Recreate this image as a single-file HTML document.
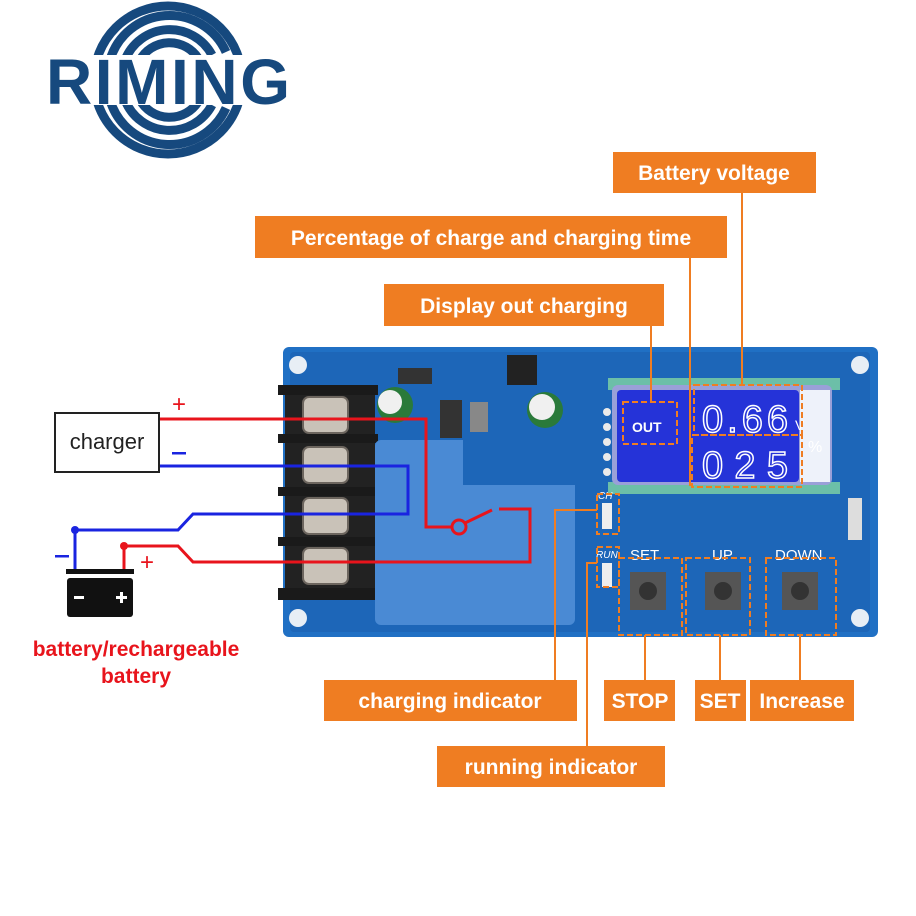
<!DOCTYPE html>
<html><head><meta charset="utf-8"><style>
body{margin:0;background:#fff;}
svg{display:block;}
.lb{font-family:"Liberation Sans",sans-serif;font-weight:bold;fill:#fff;font-size:21px;}
</style></head><body>
<svg width="916" height="916" viewBox="0 0 916 916" xmlns="http://www.w3.org/2000/svg">
<!-- logo -->
<g fill="none" stroke="#16497e" stroke-width="9">
<circle cx="168" cy="80" r="74"/>
<path d="M110 60 A62 62 0 0 1 226 52"/>
<path d="M125 60 A48 48 0 0 1 212 55"/>
<path d="M140 60 A34 34 0 0 1 198 58"/>
<path d="M110 100 A62 62 0 0 0 226 108"/>
<path d="M125 100 A48 48 0 0 0 212 105"/>
<path d="M140 100 A34 34 0 0 0 198 102"/>
</g>
<rect x="42" y="55" width="252" height="50" fill="#fff"/>
<text x="168" y="104" text-anchor="middle" font-family="Liberation Sans,sans-serif" font-weight="bold" font-size="64" fill="#16497e" textLength="244">RIMING</text>

<!-- board -->
<rect x="283" y="347" width="595" height="290" rx="6" fill="#2070c4"/>
<rect x="290" y="352" width="580" height="280" rx="4" fill="#1d66b8"/>
<circle cx="298" cy="365" r="9" fill="#e8eef5"/><circle cx="860" cy="365" r="9" fill="#e8eef5"/>
<circle cx="298" cy="618" r="9" fill="#e8eef5"/><circle cx="860" cy="618" r="9" fill="#e8eef5"/>
<!-- terminal block -->
<rect x="285" y="385" width="90" height="215" fill="#222"/>
<g fill="#1a1a1a"><rect x="278" y="385" width="100" height="10"/><rect x="278" y="434" width="100" height="9"/><rect x="278" y="487" width="100" height="9"/><rect x="278" y="537" width="100" height="9"/><rect x="278" y="588" width="100" height="12"/></g>
<g fill="#c9c2b8" stroke="#6c655e" stroke-width="2">
<rect x="303" y="397" width="45" height="36" rx="6"/><rect x="303" y="447" width="45" height="36" rx="6"/>
<rect x="303" y="498" width="45" height="36" rx="6"/><rect x="303" y="548" width="45" height="36" rx="6"/></g>
<!-- caps -->
<circle cx="395" cy="405" r="18" fill="#2a7a3a"/><circle cx="390" cy="402" r="12" fill="#f0f0f0"/>
<circle cx="545" cy="410" r="18" fill="#2a7a3a"/><circle cx="542" cy="407" r="13" fill="#f0f0f0"/>
<rect x="440" y="400" width="22" height="38" fill="#333"/>
<rect x="470" y="402" width="18" height="30" fill="#888"/>
<rect x="507" y="355" width="30" height="30" fill="#222"/>
<rect x="398" y="368" width="34" height="16" fill="#333"/>
<rect x="477" y="450" width="45" height="16" fill="#333"/>
<!-- relay -->
<rect x="375" y="440" width="200" height="185" rx="6" fill="#4a8ad4"/>
<rect x="463" y="440" width="112" height="45" fill="#1d66b8"/>
<!-- LCD -->
<rect x="608" y="378" width="232" height="12" fill="#6cbfa8"/>
<rect x="608" y="482" width="232" height="12" fill="#6cbfa8"/>
<rect x="612" y="385" width="220" height="100" rx="6" fill="#9aa0d8"/>
<rect x="617" y="390" width="182" height="92" rx="4" fill="#2533d8"/>
<rect x="800" y="390" width="30" height="92" fill="#eef2fa"/>
<text x="632" y="432" font-family="Liberation Sans,sans-serif" font-weight="bold" font-size="14" fill="#fff">OUT</text>
<text x="702" y="432" font-family="Liberation Sans,sans-serif" font-size="38" fill="none" stroke="#fff" stroke-width="1.5" textLength="86">0.66</text>
<text x="795" y="430" font-family="Liberation Sans,sans-serif" font-size="14" fill="#fff">V</text>
<text x="702" y="478" font-family="Liberation Sans,sans-serif" font-size="38" fill="none" stroke="#fff" stroke-width="1.5" textLength="86">025</text>
<text x="808" y="452" font-family="Liberation Sans,sans-serif" font-size="16" fill="#fff">%</text>
<g fill="#eaeaea"><circle cx="607" cy="412" r="4"/><circle cx="607" cy="427" r="4"/><circle cx="607" cy="442" r="4"/><circle cx="607" cy="457" r="4"/><circle cx="607" cy="472" r="4"/></g>
<rect x="848" y="498" width="14" height="42" fill="#ddd"/>
<!-- LEDs -->
<rect x="602" y="503" width="10" height="26" fill="#eee"/><rect x="602" y="563" width="10" height="24" fill="#eee"/>
<text x="598" y="499" font-family="Liberation Sans,sans-serif" font-style="italic" font-size="10" fill="#fff">CH</text>
<text x="596" y="558" font-family="Liberation Sans,sans-serif" font-style="italic" font-size="10" fill="#fff">RUN</text>
<!-- buttons -->
<g font-family="Liberation Sans,sans-serif" font-size="15" fill="#fff">
<text x="630" y="560">SET</text><text x="712" y="560">UP</text><text x="775" y="560">DOWN</text></g>
<g fill="#555"><rect x="630" y="572" width="36" height="38"/><rect x="705" y="572" width="36" height="38"/><rect x="782" y="572" width="36" height="38"/></g>
<g fill="#333"><circle cx="648" cy="591" r="9"/><circle cx="723" cy="591" r="9"/><circle cx="800" cy="591" r="9"/></g>
<!-- dashed orange -->
<g fill="none" stroke="#ef7d22" stroke-width="2" stroke-dasharray="6,3">
<rect x="623" y="402" width="54" height="42"/>
<rect x="694" y="385" width="108" height="50"/>
<rect x="692" y="435" width="110" height="52"/>
<rect x="597" y="494" width="22" height="40"/>
<rect x="597" y="547" width="22" height="40"/>
<rect x="619" y="558" width="63" height="77"/>
<rect x="686" y="558" width="64" height="77"/>
<rect x="766" y="558" width="70" height="77"/>
</g>
<!-- connector lines -->
<g fill="none" stroke="#ef7d22" stroke-width="2">
<path d="M742 193V385"/><path d="M690 258V486"/><path d="M651 326V402"/>
<path d="M555 680V510H597"/><path d="M587 746V563H597"/>
<path d="M645 680V635"/><path d="M720 680V635"/><path d="M800 680V635"/>
</g>
<!-- labels -->
<g fill="#ef7d22">
<rect x="613" y="152" width="203" height="41"/><rect x="255" y="216" width="472" height="42"/>
<rect x="384" y="284" width="280" height="42"/><rect x="324" y="680" width="253" height="41"/>
<rect x="604" y="680" width="71" height="41"/><rect x="695" y="680" width="51" height="41"/>
<rect x="750" y="680" width="104" height="41"/><rect x="437" y="746" width="228" height="41"/>
</g>
<text class="lb" x="714" y="180" text-anchor="middle">Battery voltage</text>
<text class="lb" x="491" y="245" text-anchor="middle">Percentage of charge and charging time</text>
<text class="lb" x="524" y="313" text-anchor="middle">Display out charging</text>
<text class="lb" x="450" y="708" text-anchor="middle">charging indicator</text>
<text class="lb" x="640" y="708" text-anchor="middle">STOP</text>
<text class="lb" x="720" y="708" text-anchor="middle">SET</text>
<text class="lb" x="802" y="708" text-anchor="middle">Increase</text>
<text class="lb" x="551" y="774" text-anchor="middle">running indicator</text>
<!-- charger -->
<rect x="55" y="413" width="104" height="59" fill="#fff" stroke="#222" stroke-width="2"/>
<text x="107" y="449" text-anchor="middle" font-family="Liberation Sans,sans-serif" font-size="22" fill="#222">charger</text>
<!-- wires -->
<g fill="none" stroke-width="3">
<path stroke="#e8141c" d="M160 419H426V527H452"/>
<circle stroke="#e8141c" cx="459" cy="527" r="7"/>
<path stroke="#e8141c" d="M465 523L492 510M499 509H530V562H193L178 546H124V570"/>
<path stroke="#1a24e0" d="M160 466H408V514H193L178 530H75V570"/>
</g>
<circle cx="75" cy="530" r="4" fill="#1a24e0"/><circle cx="124" cy="546" r="4" fill="#e8141c"/>
<text x="172" y="412" font-family="Liberation Sans,sans-serif" font-size="24" fill="#e8141c">+</text>
<rect x="172" y="452" width="14" height="2.5" fill="#1a24e0"/>
<rect x="55" y="555" width="14" height="2.5" fill="#1a24e0"/>
<text x="140" y="570" font-family="Liberation Sans,sans-serif" font-size="24" fill="#e8141c">+</text>
<!-- battery -->
<rect x="66" y="569" width="68" height="5" fill="#111"/>
<rect x="67" y="578" width="66" height="39" rx="3" fill="#111"/>
<rect x="74" y="596" width="10" height="3" fill="#fff"/>
<rect x="116" y="596" width="11" height="3" fill="#fff"/><rect x="120" y="592" width="3" height="11" fill="#fff"/>
<text x="136" y="656" text-anchor="middle" font-family="Liberation Sans,sans-serif" font-weight="bold" font-size="21" fill="#e8141c">battery/rechargeable</text>
<text x="136" y="683" text-anchor="middle" font-family="Liberation Sans,sans-serif" font-weight="bold" font-size="21" fill="#e8141c">battery</text>
</svg>
</body></html>
